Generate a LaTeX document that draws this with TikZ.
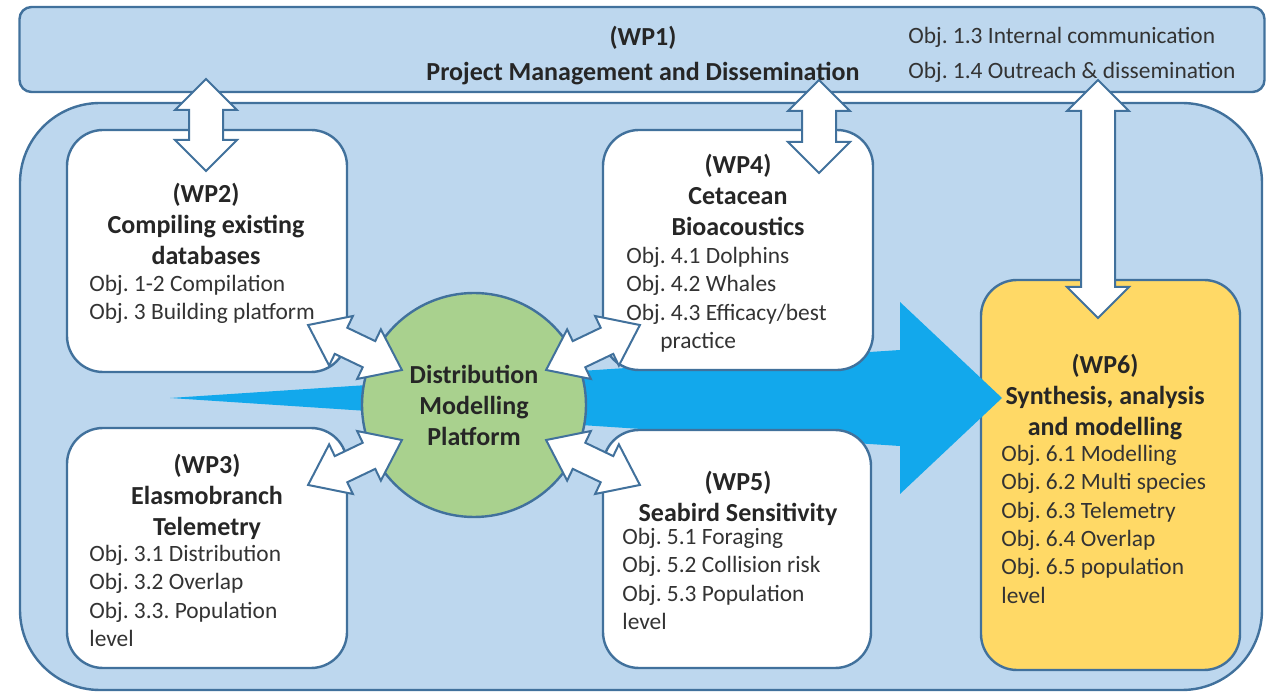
\documentclass[tikz,border=0pt]{standalone}
\usepackage{fontspec}
\setmainfont{Carlito}
\usetikzlibrary{shapes.arrows}
\usetikzlibrary{shapes.geometric}
\frenchspacing

\definecolor{paleblue}{HTML}{BDD7EE}
\definecolor{edgeblue}{HTML}{41719C}
\definecolor{flowblue}{HTML}{12A8EC}
\definecolor{platgreen}{HTML}{A9D18E}
\definecolor{synthyellow}{HTML}{FFD966}

\begin{document}
\begin{tikzpicture}[x = 0.5pt, y = -0.5pt]
	\tikzstyle{panelStyle} = [draw = edgeblue, line width = 1.2pt, fill = paleblue]
	\tikzstyle{boxStyle} = [draw = edgeblue, line width = 1.2pt, fill = white, rounded corners = 18pt, inner sep = 0pt]
	\tikzstyle{linkStyle} = [double arrow, draw = edgeblue, line width = 1pt, fill = white, inner sep = 8pt, double arrow head extend = 7pt, sloped]
	\tikzstyle{smallLinkStyle} = [linkStyle, inner sep = 6.75pt, double arrow head extend = 6.5pt, double arrow tip angle = 74]
	\tikzstyle{headStyle} = [font = \fontsize{13}{15.5}\selectfont\bfseries, align = center, inner sep = 0pt, anchor = north, text = black!85]
	\tikzstyle{objStyle} = [font = \fontsize{11.7}{14.15}\selectfont, align = left, inner sep = 0pt, anchor = north west, text = black!80]
	\useasboundingbox (0,0) rectangle (1271,695);
	% panels
	\node[panelStyle, rounded corners = 40pt, minimum width = 621pt, minimum height = 293.5pt] (outer) at (641,396.5) {};
	\node[panelStyle, rounded corners = 6pt, minimum width = 622.5pt, minimum height = 42.5pt] (wp1) at (642,49.5) {};
	\node[boxStyle, fill = synthyellow, minimum width = 129.5pt, minimum height = 195pt] (wp6) at (1110.5,475) {};
	% main flow
	\coordinate (flowTail) at (170,398);
	\coordinate (flowTip) at (1002,398);
	\fill[flowblue] (flowTail) -- (900,350) -- (900,302) -- (flowTip) -- (900,494) -- (900,446) -- cycle;
	\node[boxStyle, minimum width = 140pt, minimum height = 121pt] (wp2) at (207,251) {};
	\node[boxStyle, minimum width = 140pt, minimum height = 120pt] (wp3) at (207,548) {};
	\node[boxStyle, minimum width = 135pt, minimum height = 120pt] (wp4) at (738,250) {};
	\node[boxStyle, minimum width = 134pt, minimum height = 119pt] (wp5) at (737,549) {};
	\node[shape = circle, draw = edgeblue, line width = 1.2pt, fill = platgreen, minimum size = 112pt, inner sep = 0pt,
		font = \fontsize{13}{15.5}\selectfont\bfseries, align = center, text = black!85] (dmp) at (474,405)
		{Distribution\\Modelling\\Platform};
	% links
	\coordinate (a12) at (206,79);  \coordinate (b12) at (206,171);
	\coordinate (a14) at (819,80);  \coordinate (b14) at (819,173);
	\coordinate (a16) at (1098,80); \coordinate (b16) at (1098,318);
	\coordinate (a2) at (308,325);  \coordinate (b2) at (402,370);
	\coordinate (a4) at (640,325);  \coordinate (b4) at (546,370);
	\coordinate (a3) at (308,485);  \coordinate (b3) at (402,440);
	\coordinate (a5) at (640,485);  \coordinate (b5) at (546,440);
	\path (a12) -- node[linkStyle, minimum height = 46pt] (l12) {} (b12);
	\path (a14) -- node[linkStyle, minimum height = 46.5pt] (l14) {} (b14);
	\path (a16) -- node[linkStyle, minimum height = 119pt] (l16) {} (b16);
	\path (a2) -- node[smallLinkStyle, minimum height = 52pt] (l2) {} (b2);
	\path (a4) -- node[smallLinkStyle, minimum height = 52pt] (l4) {} (b4);
	\path (a3) -- node[smallLinkStyle, minimum height = 52pt] (l3) {} (b3);
	\path (a5) -- node[smallLinkStyle, minimum height = 52pt] (l5) {} (b5);
	% texts
	\node[headStyle, font = \fontsize{13}{17.5}\selectfont\bfseries] (wp1h) at (643,26) {(WP1)\\Project Management and Dissemination};
	\node[objStyle, font = \fontsize{11.7}{17.5}\selectfont] (wp1o) at (908,27) {Obj. 1.3 Internal communication\\Obj. 1.4 Outreach \& dissemination};
	\node[headStyle] (wp2h) at (206,183) {(WP2)\\Compiling existing\\databases};
	\node[objStyle] (wp2o) at (89,275) {Obj. 1-2 Compilation\\Obj. 3 Building platform};
	\node[headStyle] (wp3h) at (207,454) {(WP3)\\Elasmobranch\\Telemetry};
	\node[objStyle] (wp3o) at (89,545) {Obj. 3.1 Distribution\\Obj. 3.2 Overlap\\Obj. 3.3. Population\\level};
	\node[headStyle] (wp4h) at (738,154) {(WP4)\\Cetacean\\Bioacoustics};
	\node[objStyle] (wp4o) at (626,247) {Obj. 4.1 Dolphins\\Obj. 4.2 Whales\\Obj. 4.3 Efficacy/best\\\hspace*{17pt}practice};
	\node[headStyle] (wp5h) at (738,471) {(WP5)\\Seabird Sensitivity};
	\node[objStyle] (wp5o) at (622,528) {Obj. 5.1 Foraging\\Obj. 5.2 Collision risk\\Obj. 5.3 Population\\level};
	\node[headStyle] (wp6h) at (1105,354) {(WP6)\\Synthesis, analysis\\and modelling};
	\node[objStyle] (wp6o) at (1001,445) {Obj. 6.1 Modelling\\Obj. 6.2 Multi species\\Obj. 6.3 Telemetry\\Obj. 6.4 Overlap\\Obj. 6.5 population\\level};
\end{tikzpicture}
\end{document}
